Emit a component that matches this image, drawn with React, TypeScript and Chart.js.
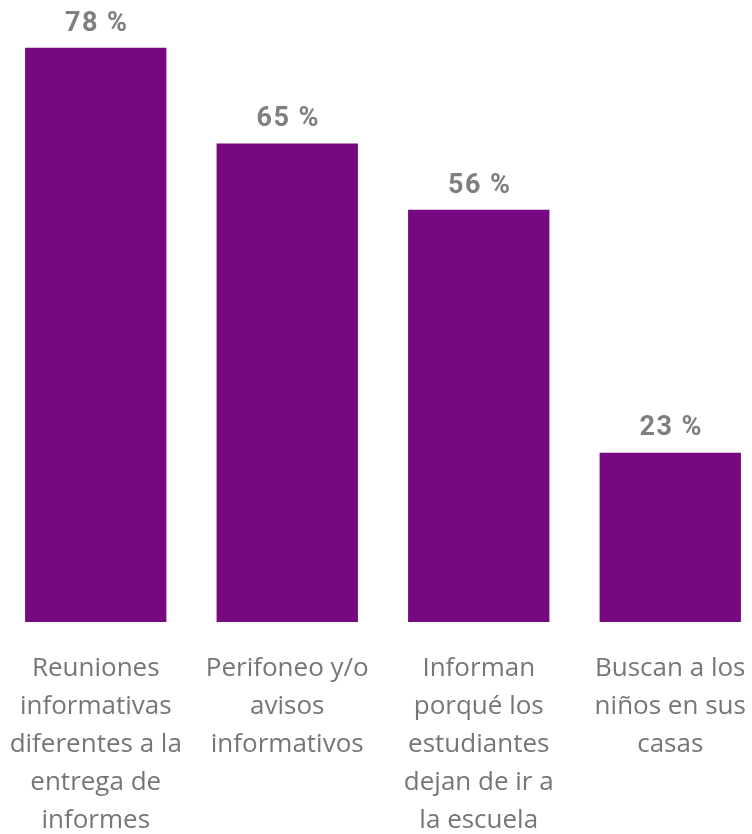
import React, { useEffect, useRef } from "react";
import { Chart, registerables } from "chart.js";

Chart.register(...registerables);

const categories: string[][] = [
  ["Reuniones", "informativas", "diferentes a la", "entrega de", "informes"],
  ["Perifoneo y/o", "avisos", "informativos"],
  ["Informan", "porqué los", "estudiantes", "dejan de ir a", "la escuela"],
  ["Buscan a los", "niños en sus", "casas"],
];
const values: number[] = [78, 65, 56, 23];
const valueLabels: string[] = ["78 %", "65 %", "56 %", "23 %"];

const BAR_COLOR = "#760880";
const TEXT_GRAY = "#767676";
const VALUE_GRAY = "#7f7f7f";

export default function App() {
  const ref = useRef<HTMLCanvasElement | null>(null);
  useEffect(() => {
    document.body.style.margin = "0";
    document.body.style.overflow = "hidden";
    const valuePlugin = {
      id: "valueLabels",
      afterDatasetsDraw(chart: any) {
        const ctx = chart.ctx;
        const meta = chart.getDatasetMeta(0);
        ctx.save();
        ctx.font = "bold 27px Roboto";
        (ctx as any).letterSpacing = "1.5px";
        ctx.fillStyle = VALUE_GRAY;
        ctx.textAlign = "center";
        ctx.textBaseline = "middle";
        meta.data.forEach((bar: any, i: number) => {
          ctx.fillText(valueLabels[i], bar.x + 1, bar.y - 24);
        });
        ctx.restore();
      },
    };
    const chart = new Chart(ref.current!, {
      type: "bar",
      data: {
        labels: categories,
        datasets: [
          {
            data: values,
            backgroundColor: BAR_COLOR,
            categoryPercentage: 1,
            barPercentage: 0.738,
          },
        ],
      },
      options: {
        animation: false,
        responsive: false,
        devicePixelRatio: 1,
        layout: { padding: 0 },
        plugins: { legend: { display: false }, tooltip: { enabled: false } },
        scales: {
          y: { display: false, min: 0, max: 84.5 },
          x: {
            grid: { display: false, drawTicks: false },
            border: { display: false },
            ticks: {
              padding: 28,
              color: TEXT_GRAY,
              font: { family: "'Segoe UI', 'Open Sans', sans-serif", size: 26, lineHeight: "38px" },
              maxRotation: 0,
              autoSkip: false,
            },
            afterFit(scale: any) {
              scale.height = 212;
              scale.paddingLeft = 0;
              scale.paddingRight = 0;
            },
          },
        },
      },
      plugins: [valuePlugin],
    });
    return () => chart.destroy();
  }, []);
  return (
    <div style={{ position: "fixed", left: 0, top: 0, width: 752, height: 834, overflow: "hidden", background: "#fff" }}>
      <canvas ref={ref} width={766} height={834} style={{ display: "block" }} />
    </div>
  );
}
